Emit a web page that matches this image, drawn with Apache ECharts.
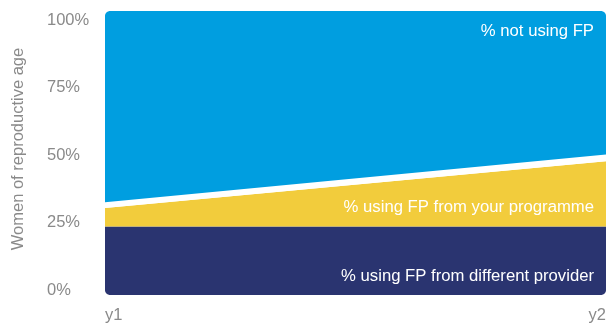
<!DOCTYPE html>
<html><head><meta charset="utf-8">
<script src="https://cdn.jsdelivr.net/npm/echarts@6/dist/echarts.min.js"></script>
<style>html,body{margin:0;padding:0;background:#fff}#c{width:609px;height:324px}</style>
</head><body><div id="c"></div>
<script>
// ---- data ----
const categories = ['y1', 'y2'];
const differentProvider = [24.1, 24.1];
const yourProgramme = [6.5, 23.0];
const gapBand = [2.1, 2.4];
const notUsing = [67.3, 50.5];
const yTickLabels = ['0%', '25%', '50%', '75%', '100%'];
const yTitle = 'Women of reproductive age';
const bandLabels = ['% using FP from different provider', '% using FP from your programme', '% not using FP'];

// ---- style ----
const FONT = 'Liberation Sans, Arial, sans-serif';
const GRAY = '#8a8a8a';
const NAVY = '#2a3470';
const YELLOW = '#f2cc3c';
const BLUE = '#009ee0';

const chart = echarts.init(document.getElementById('c'), null, {renderer: 'canvas'});

function area(name, data, color) {
  return {
    name: name, type: 'line', stack: 'total', data: data,
    xAxisIndex: 0, yAxisIndex: 0,
    symbol: 'none', showSymbol: false, silent: true,
    lineStyle: {width: 0, opacity: 0},
    areaStyle: {color: color, opacity: 1}
  };
}

chart.setOption({
  animation: false,
  backgroundColor: '#fff',
  textStyle: {fontFamily: FONT},
  grid: [
    {left: 105, right: 2, top: 11, bottom: 28},
    {left: 105, right: 2, top: 20, bottom: 34}
  ],
  xAxis: [
    {type: 'category', gridIndex: 0, data: categories, boundaryGap: false,
     axisLine: {show: false}, axisTick: {show: false}, splitLine: {show: false},
     axisLabel: {color: GRAY, fontSize: 16.5, fontFamily: FONT, margin: 12,
                 alignMinLabel: 'left', alignMaxLabel: 'right'}},
    {type: 'value', gridIndex: 1, show: false, min: 0, max: 1}
  ],
  yAxis: [
    {type: 'value', gridIndex: 0, min: 0, max: 100, show: false},
    {type: 'value', gridIndex: 1, min: 0, max: 100, interval: 25,
     axisLine: {show: false}, axisTick: {show: false}, splitLine: {show: false},
     axisLabel: {color: GRAY, fontSize: 16.5, fontFamily: FONT, align: 'left', margin: 58,
                 formatter: v => yTickLabels[Math.round(v / 25)]},
     name: yTitle, nameLocation: 'middle', nameRotate: 90, nameGap: 78,
     nameTextStyle: {color: GRAY, fontSize: 16.5, fontFamily: FONT, padding: [0, 0, 0, 12]}}
  ],
  series: [
    area(bandLabels[0], differentProvider, NAVY),
    area(bandLabels[1], yourProgramme, YELLOW),
    area('gap', gapBand, '#ffffff'),
    area(bandLabels[2], notUsing, BLUE)
  ]
});

// corner rounding masks + in-band labels, positioned from the grid
const p00 = chart.convertToPixel({gridIndex: 0}, [categories[0], 0]);
const p11 = chart.convertToPixel({gridIndex: 0}, [categories[1], 100]);
const L = p00[0], B = p00[1], R = p11[0], T = p11[1], r = 5;
// corner (cx,cy) = arc centre; sx,sy = direction signs toward the corner
function mask(cx, cy, sx, sy) {
  const pts = [[cx + sx * (r + 1), cy + sy * (r + 1)]];
  pts.push([cx, cy + sy * (r + 1)]);
  for (let i = 0; i <= 12; i++) {
    const a = (Math.PI / 2) * i / 12;
    pts.push([cx + sx * r * Math.sin(a), cy + sy * r * Math.cos(a)]);
  }
  pts.push([cx + sx * (r + 1), cy]);
  return {type: 'polygon', shape: {points: pts}, style: {fill: '#fff'}, silent: true, z: 100};
}
const masks = [
  mask(L + r, T + r, -1, -1),
  mask(R - r, T + r, 1, -1),
  mask(R - r, B - r, 1, 1),
  mask(L + r, B - r, -1, 1)
];
function label(text, y) {
  return {type: 'text', right: 609 - 594, top: y - 9.5, z: 110, silent: true,
          style: {text: text, fill: '#fff', font: '16.7px ' + FONT, textAlign: 'right'}};
}
chart.setOption({
  graphic: masks.concat([
    label(bandLabels[2], 32),
    label(bandLabels[1], 208.5),
    label(bandLabels[0], 277)
  ])
});
</script>
</body></html>
